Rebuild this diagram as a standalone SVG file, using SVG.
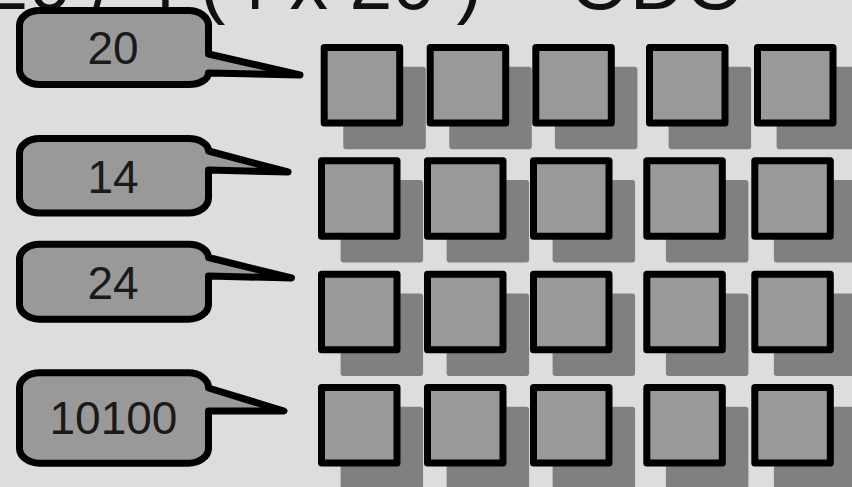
<svg xmlns="http://www.w3.org/2000/svg" width="852" height="487" viewBox="0 0 852 487">
<style>
.title{font-family:"Liberation Sans",Arial,sans-serif;font-size:77px;fill:#111}
.lbl{font-family:"Liberation Sans",Arial,sans-serif;font-size:46px;fill:#1a1a1a;text-anchor:middle}
.bub{fill:#999;stroke:#000;stroke-width:7;stroke-linejoin:round}
.sq{fill:#999;stroke:#000;stroke-width:7;stroke-linejoin:round}
.sh{fill:#808080}
</style>
<defs>
<rect id="shadow" class="sh" width="82.5" height="82.5" rx="3"/>
<rect id="box" class="sq" x="3.5" y="3.5" width="75.5" height="75.5"/>
</defs>
<rect width="852" height="487" fill="#ddd"/>
<text class="title" x="-14.4" y="9">20 / 4 (4 x 20 ) = ODO</text>

<g id="shadows">
<use href="#shadow" x="343.3" y="66.7"/><use href="#shadow" x="449.3" y="66.7"/><use href="#shadow" x="554.9" y="66.7"/><use href="#shadow" x="668.6" y="66.7"/><use href="#shadow" x="776.6" y="66.7"/>
<use href="#shadow" x="340.6" y="180"/><use href="#shadow" x="446.6" y="180"/><use href="#shadow" x="552.6" y="180"/><use href="#shadow" x="665.9" y="180"/><use href="#shadow" x="773.9" y="180"/>
<use href="#shadow" x="340.6" y="293.4"/><use href="#shadow" x="446.6" y="293.4"/><use href="#shadow" x="552.6" y="293.4"/><use href="#shadow" x="665.9" y="293.4"/><use href="#shadow" x="773.9" y="293.4"/>
<use href="#shadow" x="340.6" y="406.7"/><use href="#shadow" x="446.6" y="406.7"/><use href="#shadow" x="552.6" y="406.7"/><use href="#shadow" x="665.9" y="406.7"/><use href="#shadow" x="773.9" y="406.7"/>
</g>

<g id="row1">
<use id="sq-1-1" href="#box" x="320.7" y="44"/><use id="sq-1-2" href="#box" x="426.7" y="44"/><use id="sq-1-3" href="#box" x="532.3" y="44"/><use id="sq-1-4" href="#box" x="646" y="44"/><use id="sq-1-5" href="#box" x="754" y="44"/>
</g>
<g id="row2">
<use id="sq-2-1" href="#box" x="318" y="157.3"/><use id="sq-2-2" href="#box" x="424" y="157.3"/><use id="sq-2-3" href="#box" x="530" y="157.3"/><use id="sq-2-4" href="#box" x="643.3" y="157.3"/><use id="sq-2-5" href="#box" x="751.3" y="157.3"/>
</g>
<g id="row3">
<use id="sq-3-1" href="#box" x="318" y="270.7"/><use id="sq-3-2" href="#box" x="424" y="270.7"/><use id="sq-3-3" href="#box" x="530" y="270.7"/><use id="sq-3-4" href="#box" x="643.3" y="270.7"/><use id="sq-3-5" href="#box" x="751.3" y="270.7"/>
</g>
<g id="row4">
<use id="sq-4-1" href="#box" x="318" y="384"/><use id="sq-4-2" href="#box" x="424" y="384"/><use id="sq-4-3" href="#box" x="530" y="384"/><use id="sq-4-4" href="#box" x="643.3" y="384"/><use id="sq-4-5" href="#box" x="751.3" y="384"/>
</g>

<g id="bubble-20">
<path class="bub" d="M39.5,10.5 H188.5 A20,15 0 0 1 208.5,25.5 V54 L300,75 L208.5,73 A20,11.5 0 0 1 188.5,84.5 H39.5 A20,15 0 0 1 19.5,69.5 V25.5 A20,15 0 0 1 39.5,10.5 Z"/>
<text class="lbl" x="113" y="63.5">20</text>
</g>
<g id="bubble-14">
<path class="bub" d="M39.5,138.5 H188.5 A20,12.5 0 0 1 208.5,151 L288,172 L208.5,170 V198 A20,15 0 0 1 188.5,213 H39.5 A20,15 0 0 1 19.5,198 V153.5 A20,15 0 0 1 39.5,138.5 Z"/>
<text class="lbl" x="113" y="192.5">14</text>
</g>
<g id="bubble-24">
<path class="bub" d="M39.5,244.2 H188.5 A20,13.3 0 0 1 208.5,257.5 L291.5,278 L208.5,276 V304.2 A20,15 0 0 1 188.5,319.2 H39.5 A20,15 0 0 1 19.5,304.2 V259.2 A20,15 0 0 1 39.5,244.2 Z"/>
<text class="lbl" x="113" y="299">24</text>
</g>
<g id="bubble-10100">
<path class="bub" d="M39.5,372.8 H188.5 A20,15 0 0 1 208.5,387.8 V388 L284,411 L208.5,411 V448.2 A20,15 0 0 1 188.5,463.2 H39.5 A20,15 0 0 1 19.5,448.2 V387.8 A20,15 0 0 1 39.5,372.8 Z"/>
<text class="lbl" x="113.5" y="434">10100</text>
</g>
</svg>
